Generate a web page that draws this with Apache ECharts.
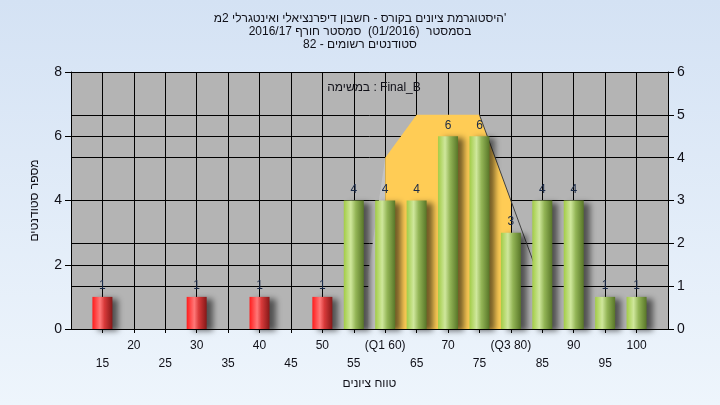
<!DOCTYPE html>
<html>
<head>
<meta charset="utf-8">
<script src="https://cdn.jsdelivr.net/npm/echarts@6/dist/echarts.min.js"></script>
<style>html,body{margin:0;padding:0;}#c{width:720px;height:405px;}</style>
</head>
<body>
<div id="c"></div>
<script>
// ---- data ----
var titleLines = ["היסטוגרמת ציונים בקורס - חשבון דיפרנציאלי ואינטגרלי 2מ'", "בסמסטר  (01/2016)  סמסטר חורף 2016/17", "סטודנטים רשומים - 82"];
var legendText = "במשימה : Final_B";
var xAxisTitle = "טווח ציונים";
var yAxisTitle = "מספר סטודנטים";
var gradeBins = [15, 20, 25, 30, 35, 40, 45, 50, 55, 60, 65, 70, 75, 80, 85, 90, 95, 100];
var studentCounts = [1, 0, 0, 1, 0, 1, 0, 1, 4, 4, 4, 6, 6, 3, 4, 4, 1, 1];
var passMark = 55;
var tickLabels = {60: "(Q1 60)", 80: "(Q3 80)"};
var quartileX = [60, 65, 75, 80];
var quartileY = [4, 5, 5, 3];
var edgeLineX = [75, 85];
var edgeLineY = [5, 1];
var leftEdgeX = [57.3, 60];
var leftEdgeY = [1.3, 4];

function pairs(xs, ys) { return xs.map(function (x, i) { return [x, ys[i]]; }); }

var redGrad = new echarts.graphic.LinearGradient(0, 0, 1, 0, [
  {offset: 0, color: '#ff1c1c'}, {offset: 0.38, color: '#ff7878'}, {offset: 0.6, color: '#d83a3a'}, {offset: 1, color: '#851818'}]);
var greenGrad = new echarts.graphic.LinearGradient(0, 0, 1, 0, [
  {offset: 0, color: '#a2cc46'}, {offset: 0.35, color: '#cfe79c'}, {offset: 0.6, color: '#93b556'}, {offset: 1, color: '#587628'}]);

var barData = [];
gradeBins.forEach(function (g, i) {
  if (studentCounts[i] > 0) {
    barData.push({value: [g, studentCounts[i]], itemStyle: {color: g < passMark ? redGrad : greenGrad}});
  }
});

var font = 'Arial, "Liberation Sans", sans-serif';
var chart = echarts.init(document.getElementById('c'), null, {renderer: 'canvas'});
chart.setOption({
  animation: false,
  backgroundColor: new echarts.graphic.LinearGradient(0, 0, 0, 1, [
    {offset: 0, color: '#d4e2f4'}, {offset: 1, color: '#eef5fc'}]),
  title: [{
    text: titleLines.join('\n'),
    left: 'center', top: 7,
    textStyle: {fontFamily: font, fontSize: 12, fontWeight: 'normal', color: '#101018', lineHeight: 13}
  }, {
    text: legendText,
    left: 369, top: 77, textAlign: 'center',
    textStyle: {fontFamily: font, fontSize: 12, fontWeight: 'normal', color: '#101018'}
  }],
  grid: {left: 71, right: 52, top: 72, bottom: 76, show: true, backgroundColor: '#b4b4b4', borderWidth: 0},
  xAxis: {
    type: 'value', min: 10, max: 105, interval: 5,
    name: xAxisTitle, nameLocation: 'middle', nameGap: 44,
    nameTextStyle: {fontFamily: font, fontSize: 12, color: '#101018'},
    axisLine: {show: true, lineStyle: {color: '#000', width: 1}},
    axisTick: {show: true, length: 4, lineStyle: {color: '#000'}},
    splitLine: {show: true, lineStyle: {color: '#000', width: 1}},
    axisLabel: {
      fontFamily: font, fontSize: 12, color: '#101018', margin: 8, lineHeight: 18,
      showMinLabel: false, showMaxLabel: false,
      formatter: function (v) {
        if (v <= 10 || v >= 105) return '';
        var s = tickLabels[v] || String(v);
        return ((v - 15) / 5) % 2 === 0 ? '\n' + s : s;
      }
    }
  },
  yAxis: [{
    type: 'value', min: 0, max: 8, interval: 2, position: 'left',
    name: yAxisTitle, nameLocation: 'middle', nameGap: 30, nameRotate: 90,
    nameTextStyle: {fontFamily: font, fontSize: 12, color: '#101018'},
    axisLine: {show: true, lineStyle: {color: '#000'}},
    axisTick: {show: true, length: 6, lineStyle: {color: '#000'}},
    splitLine: {show: true, lineStyle: {color: '#000', width: 1}},
    axisLabel: {fontFamily: font, fontSize: 14, color: '#101018', margin: 9}
  }, {
    type: 'value', min: 0, max: 6, interval: 1, position: 'right',
    axisLine: {show: true, lineStyle: {color: '#000'}},
    axisTick: {show: true, length: 6, lineStyle: {color: '#000'}},
    splitLine: {show: true, lineStyle: {color: '#000', width: 1}},
    axisLabel: {fontFamily: font, fontSize: 14, color: '#101018', margin: 9}
  }],
  series: [{
    type: 'line', yAxisIndex: 1, data: pairs(leftEdgeX, leftEdgeY), symbol: 'none', z: 1,
    lineStyle: {width: 0}, areaStyle: {color: '#c3c3c3', opacity: 1}
  }, {
    type: 'line', yAxisIndex: 1, data: pairs(quartileX, quartileY), symbol: 'none', z: 2,
    lineStyle: {width: 0}, areaStyle: {color: '#ffcc55', opacity: 1}
  }, {
    type: 'line', yAxisIndex: 1, data: pairs(edgeLineX, edgeLineY), symbol: 'none', z: 3,
    lineStyle: {width: 1, color: '#404040'}
  }, {
    type: 'bar', yAxisIndex: 0, data: barData, barWidth: 20, z: 5,
    itemStyle: {shadowColor: 'rgba(0,0,0,0.55)', shadowBlur: 6, shadowOffsetX: 6, shadowOffsetY: 2},
    label: {show: true, position: 'top', distance: 5, fontFamily: font, fontSize: 12, color: '#1a2a48',
      formatter: function (p) { return p.value[1]; }}
  }]
});
</script>
</body>
</html>
